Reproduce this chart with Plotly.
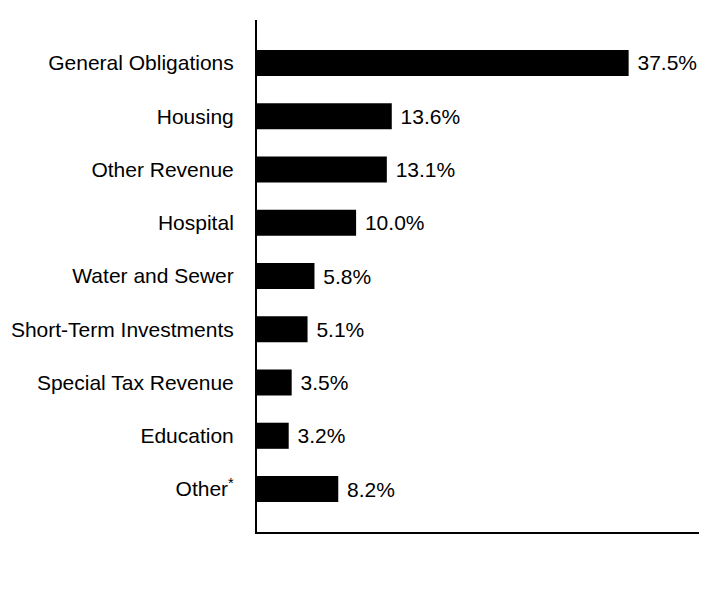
import plotly.graph_objects as go

categories = ["General Obligations", "Housing", "Other Revenue", "Hospital",
              "Water and Sewer", "Short-Term Investments", "Special Tax Revenue",
              "Education", "Other<sup>*</sup>"]
values = [37.5, 13.6, 13.1, 10.0, 5.8, 5.1, 3.5, 3.2, 8.2]
labels = ["37.5%", "13.6%", "13.1%", "10.0%", "5.8%", "5.1%", "3.5%", "3.2%", "8.2%"]

fig = go.Figure(go.Bar(
    x=values, y=categories, orientation="h",
    marker=dict(color="black", line=dict(width=0)),
    width=0.49,
    text=["\u00a0" + t for t in labels], textposition="outside", cliponaxis=False,
    textfont=dict(family="Liberation Sans, Arial, sans-serif", size=21, color="black"),
))

fig.update_layout(
    width=712, height=604,
    margin=dict(l=249, r=21, t=12, b=80, autoexpand=False),
    paper_bgcolor="white", plot_bgcolor="white",
    showlegend=False,
    font=dict(family="Liberation Sans, Arial, sans-serif", size=21, color="black"),
    uniformtext=dict(minsize=21, mode="show"),
    xaxis=dict(range=[0, 44.6], showgrid=False, zeroline=False, showticklabels=False,
               ticks="", showline=True, linecolor="black", linewidth=2, automargin=False),
    yaxis=dict(categoryorder="array", categoryarray=categories, range=[8.807, -0.807],
               showgrid=False, zeroline=False, ticks="", showline=True,
               linecolor="black", linewidth=2, ticklabelstandoff=17, automargin=False),
)

fig.write_html("out.html")
